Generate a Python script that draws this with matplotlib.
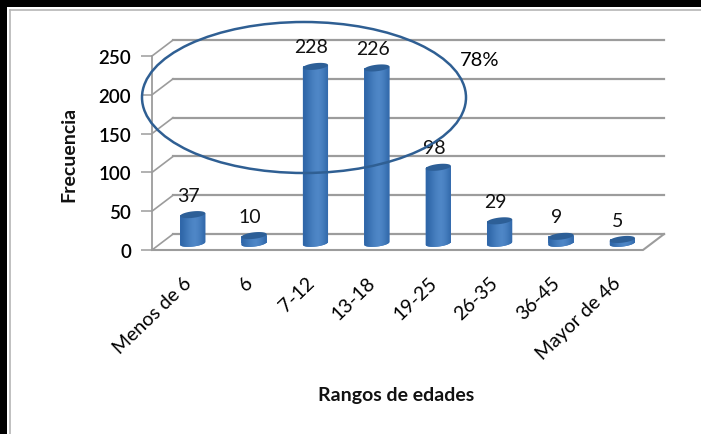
import matplotlib
matplotlib.use("Agg")
import matplotlib.pyplot as plt
from matplotlib.patches import Ellipse, Polygon, Rectangle
import numpy as np

# datos
categorias = ["Menos de 6", "6", "7-12", "13-18", "19-25", "26-35", "36-45", "Mayor de 46"]
frecuencia = [37, 10, 228, 226, 98, 29, 9, 5]
ticks_y = [0, 50, 100, 150, 200, 250]

plt.rcParams['font.family'] = ['Lato', 'DejaVu Sans']
W, H = 701, 435
fig = plt.figure(figsize=(W / 100, H / 100), dpi=100, facecolor='white')

# cara frontal del grafico: x 152-643, y 57-251 en pixeles
ax = fig.add_axes([152 / W, 1 - 251 / H, 491 / W, 194 / H])
ax.set_xlim(-0.5, 7.5)
ax.set_ylim(0, 250)
ax.patch.set_alpha(0)
for s in ax.spines.values():
    s.set_visible(False)

# profundidad en unidades de datos
prof_x, prof_y = 0.342, 20.5
gris = '#9c9c9c'

for v in ticks_y:
    ax.plot([-0.5, -0.5 + prof_x], [v, v + prof_y], color=gris, lw=1.2, clip_on=False, zorder=1)
    ax.plot([-0.5 + prof_x, 7.5 + prof_x], [v + prof_y, v + prof_y], color=gris, lw=1.6, clip_on=False, zorder=1)
ax.plot([-0.5, -0.5], [0, 250], color=gris, lw=1.3, clip_on=False, zorder=1)
ax.plot([-0.5, 7.5, 7.5 + prof_x], [0, 0, prof_y], color=gris, lw=1.5, clip_on=False, zorder=1)

# barras tipo cilindro
ancho = 0.41
base = 8.6
alto_elipse = 4.2
incl = 1.8
t = np.linspace(0, 2 * np.pi, 60)
grad = np.array([[0.0, 0.3, 0.6, 0.85, 1.0, 0.85, 0.55, 0.1]])
cm = matplotlib.colors.LinearSegmentedColormap.from_list('azul', ['#2f66a8', '#5088c8'])

for i, v in enumerate(frecuencia):
    cx = i + 0.163
    ex = ancho / 2 * np.cos(t)
    arriba = base + v
    # cuerpo: lado superior recto y mitad inferior de la elipse
    t2 = np.linspace(np.pi, 2 * np.pi, 30)
    xs = cx + ancho / 2 * np.cos(t2)
    ys = base + alto_elipse * np.sin(t2) + incl * np.cos(t2)
    cuerpo = np.column_stack([np.r_[cx - ancho / 2, xs, cx + ancho / 2],
                              np.r_[arriba - incl, ys, arriba + incl]])
    ax.bar(i + 0.163, v, width=ancho, bottom=base, color='#3d73b5', zorder=2)
    p = Polygon(cuerpo, closed=True, facecolor='#3d73b5', edgecolor='none', zorder=3)
    ax.add_patch(p)
    im = ax.imshow(grad, extent=[cx - ancho / 2, cx + ancho / 2, 0, arriba + incl], aspect='auto',
                   cmap=cm, interpolation='bicubic', zorder=3.1)
    im.set_clip_path(p)
    ax.fill(cx + ex, arriba + alto_elipse * np.sin(t) + incl * np.cos(t),
            color='#2d5f97', ec='none', zorder=4)
    ax.text(i + 0.163 - 0.07, arriba + 25, str(v), ha='center', va='center', fontsize=14,
            color='#111111', zorder=5)

ax.set_xlim(-0.5, 7.5)
ax.set_ylim(0, 250)

# ejes
ax.set_yticks(ticks_y)
ax.set_yticklabels([str(v) for v in ticks_y], fontsize=13.5, fontweight='semibold', color='black')
ax.tick_params(axis='y', length=8, width=1.1, color=gris, pad=7)
ax.set_xticks(range(len(categorias)))
ax.set_xticklabels(categorias, rotation=44, ha='right', va='top', rotation_mode='anchor',
                   fontsize=14, color='black')
ax.tick_params(axis='x', length=0, pad=17)

# capa en pixeles: marco, titulos de eje y anotacion
capa = fig.add_axes([0, 0, 1, 1], zorder=10)
capa.set_xlim(0, W)
capa.set_ylim(H, 0)
capa.axis('off')
capa.add_patch(Rectangle((0, 0), W, 8, color='black', lw=0))
capa.add_patch(Rectangle((0, 0), 7, H, color='black', lw=0))
capa.plot([10, W], [11, 11], color='#b5b5b5', lw=1.2)
capa.plot([10, 10], [11, H], color='#b5b5b5', lw=1.2)
capa.add_patch(Ellipse((304, 98.5), 324, 151, fill=False, edgecolor='#2f5f93', lw=1.8))
capa.text(480, 60, "78%", ha='center', va='center', fontsize=14.5, color='black')
capa.text(69, 154, "Frecuencia", rotation=90, ha='center', va='center', fontsize=14,
          fontweight='bold', color='#111111')
capa.text(396, 396, "Rangos de edades", ha='center', va='center', fontsize=14,
          fontweight='bold', color='#111111')

fig.savefig('out.png', dpi=100)
